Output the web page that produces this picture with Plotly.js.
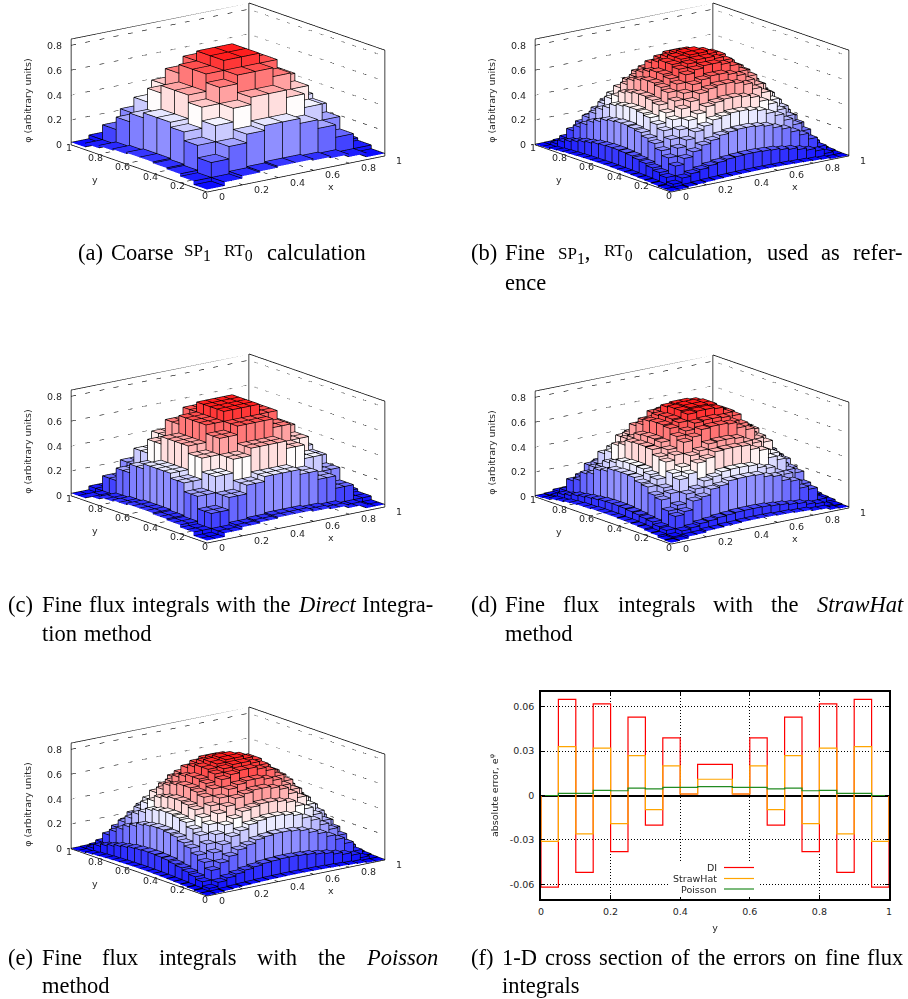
<!DOCTYPE html>
<html><head><meta charset="utf-8">
<script src="https://cdn.plot.ly/plotly-3.0.1.min.js"></script>
<style>html,body{margin:0;padding:0;background:#fff}#g{width:908px;height:999px}</style></head>
<body><div id="g"></div>
<script>
// Quadrants of the symmetric cell-value tables
const coarseSP1 = [
 [.02,.05,.07,.08,.09],
 [.05,.17,.27,.34,.38],
 [.07,.27,.40,.51,.57],
 [.08,.34,.51,.64,.71],
 [.09,.38,.57,.71,.79]];
const fineSP1 = [
 [.005,.006,.013,.018,.022,.025,.028,.030,.031,.032],
 [.006,.029,.064,.085,.103,.120,.131,.143,.148,.152],
 [.013,.064,.141,.188,.227,.265,.289,.316,.328,.336],
 [.018,.085,.188,.251,.302,.354,.385,.421,.437,.448],
 [.022,.103,.227,.302,.365,.427,.464,.508,.527,.540],
 [.025,.120,.265,.354,.427,.499,.544,.594,.616,.632],
 [.028,.131,.289,.385,.464,.544,.592,.647,.671,.688],
 [.030,.143,.316,.421,.508,.594,.647,.707,.733,.752],
 [.031,.148,.328,.437,.527,.616,.671,.733,.761,.780],
 [.032,.152,.336,.448,.540,.632,.688,.752,.780,.800]];
const fineDI = [
 [.02,.02,.05,.05,.07,.07,.08,.08,.09,.09],
 [.02,.02,.05,.05,.07,.07,.08,.08,.09,.09],
 [.05,.05,.17,.17,.27,.27,.34,.34,.38,.38],
 [.05,.05,.17,.17,.27,.27,.34,.34,.38,.38],
 [.07,.07,.27,.27,.40,.40,.51,.51,.57,.57],
 [.07,.07,.27,.27,.40,.40,.51,.51,.57,.57],
 [.08,.08,.34,.34,.51,.51,.64,.64,.71,.71],
 [.08,.08,.34,.34,.51,.51,.64,.64,.71,.71],
 [.09,.09,.38,.38,.57,.57,.71,.71,.79,.79],
 [.09,.09,.38,.38,.57,.57,.71,.71,.79,.79]];
const fineStrawHat = [
 [.010,.015,.030,.035,.045,.050,.055,.055,.060,.060],
 [.015,.025,.057,.068,.087,.095,.105,.112,.119,.121],
 [.032,.057,.155,.179,.249,.268,.315,.328,.354,.358],
 [.034,.068,.179,.210,.286,.312,.362,.381,.408,.414],
 [.046,.087,.249,.286,.383,.414,.487,.509,.549,.555],
 [.048,.095,.268,.312,.414,.450,.527,.552,.593,.601],
 [.054,.106,.315,.362,.487,.527,.616,.644,.690,.699],
 [.055,.112,.328,.381,.509,.552,.644,.674,.722,.731],
 [.060,.119,.354,.408,.549,.593,.690,.722,.775,.785],
 [.061,.121,.358,.414,.555,.601,.699,.731,.785,.795]];
const finePoisson = [
 [.004,.006,.012,.017,.021,.024,.027,.029,.030,.031],
 [.006,.028,.062,.083,.100,.117,.128,.140,.145,.149],
 [.012,.062,.138,.184,.223,.260,.284,.311,.323,.331],
 [.017,.083,.184,.246,.297,.348,.380,.415,.431,.442],
 [.021,.100,.223,.297,.360,.421,.458,.502,.521,.534],
 [.024,.117,.260,.348,.421,.493,.538,.588,.610,.626],
 [.027,.128,.284,.380,.458,.538,.586,.641,.665,.682],
 [.029,.140,.311,.415,.502,.588,.641,.701,.727,.746],
 [.030,.145,.323,.431,.521,.610,.665,.727,.755,.774],
 [.031,.149,.331,.442,.534,.626,.682,.746,.774,.794]];

const zTicks=[0,.2,.4,.6,.8], xyTicks=[0,.2,.4,.6,.8,1];

const crossY=[0,0,.05,.1,.15,.2,.25,.3,.35,.4,.45,.5,.55,.6,.65,.7,.75,.8,.85,.9,.95,1,1];
const errDI=[0,-.062,.065,-.052,.062,-.038,.053,-.02,.039,.001,.021,.021,.001,.039,-.02,.053,-.038,.062,-.052,.065,-.062,-.062,0];
const errStrawHat=[0,-.031,.033,-.026,.032,-.019,.027,-.0095,.02,.001,.011,.011,.001,.02,-.0095,.027,-.019,.032,-.026,.033,-.031,-.031,0];
const errPoisson=[0,0,.0015,.0015,.0035,.0032,.005,.0045,.0055,.0055,.006,.006,.0055,.0055,.0045,.005,.0032,.0035,.0015,.0015,0,0,0];

const SC=s=>`<span style="font-size:17px">${s}</span>`;
const captionWords=[
 [78,253,'(a)'],[111,253,'Coarse'],[184,253,SC('SP')+'<sub>1</sub>'],[224,253,SC('RT')+'<sub>0</sub>'],[267,253,'calculation'],
 [471,253,'(b)'],[505,253,'Fine'],[558,253,SC('SP')+'<sub>1</sub>,'],[604,253,SC('RT')+'<sub>0</sub>'],[648,253,'calculation,'],[767,253,'used'],[821,253,'as'],[853,253,'refer-'],[505,282,'ence'],
 [8,604,'(c)'],[41.6,604,'Fine'],[88.6,604,'flux'],[131.6,604,'integrals'],[216,604,'with'],[263,604,'the'],[297.5,604,'<i>Direct</i>'],[362,604,'Integra-'],[41.6,633,'tion'],[84,633,'method'],
 [471,604,'(d)'],[505,604,'Fine'],[563,604,'flux'],[617.5,604,'integrals'],[713,604,'with'],[771,604,'the'],[817,604,'<i>StrawHat</i>'],[505,633,'method'],
 [8,957,'(e)'],[41.6,957,'Fine'],[102,957,'flux'],[159,957,'integrals'],[257,957,'with'],[318,957,'the'],[366,957,'<i>Poisson</i>'],[41.6,985,'method'],
 [471,957,'(f)'],[502,957,'1-D'],[545,957,'cross'],[599,957,'section'],[671,957,'of'],[698,957,'the'],[733,957,'errors'],[794,957,'on'],[824.5,957,'fine'],[867,957,'flux'],[502,985,'integrals']
];

const W=908,H=999,TXT='#262626',FONT='DejaVu Sans',FS=9.5;
function expand(q){const n=q.length*2,m=[];for(let a=0;a<n;a++){const r=[];const i=a<n/2?a:n-1-a;for(let b=0;b<n;b++){const j=b<n/2?b:n-1-b;r.push(q[i][j]);}m.push(r);}return m;}
// blue - white - red colour scale: white at .42, full red at .84
function pal(z){let r,g,b;if(z<.42){r=g=Math.round(255*Math.max(0,z)/.42);b=255;}else{r=255;g=b=Math.round(255*Math.max(0,1-(z-.42)/.42));}return `rgb(${r},${g},${b})`;}

// edges are nudged a hair toward the camera so that the faces do not hide them
const NX=-.0025,NY=-.0033,NZ=.002;
function surface(q,scene){
 const M=expand(q),n=M.length,d=1/n;
 const X=[],Y=[],Z=[],I=[],J=[],K=[],C=[];
 function quad(a,b,c,e,col){const s=X.length;[a,b,c,e].forEach(p=>{X.push(p[0]);Y.push(p[1]);Z.push(p[2]);});I.push(s,s);J.push(s+1,s+2);K.push(s+2,s+3);C.push(col,col);}
 const lx=[],ly=[],lz=[];
 function seg(a,b){lx.push(a[0]+NX,b[0]+NX,null);ly.push(a[1]+NY,b[1]+NY,null);lz.push(a[2]+NZ,b[2]+NZ,null);}
 for(let i=0;i<n;i++)for(let j=0;j<n;j++){
  const z=M[i][j],x0=i*d,x1=(i+1)*d,y0=j*d,y1=(j+1)*d;
  quad([x0,y0,z],[x1,y0,z],[x1,y1,z],[x0,y1,z],pal(z));
  seg([x0,y0,z],[x1,y0,z]);seg([x1,y0,z],[x1,y1,z]);seg([x1,y1,z],[x0,y1,z]);seg([x0,y1,z],[x0,y0,z]);
  if(i<n-1&&M[i+1][j]!==z){const zr=M[i+1][j];quad([x1,y0,z],[x1,y1,z],[x1,y1,zr],[x1,y0,zr],pal((z+zr)/2));}
  if(j<n-1&&M[i][j+1]!==z){const zu=M[i][j+1];quad([x0,y1,z],[x1,y1,z],[x1,y1,zu],[x0,y1,zu],pal((z+zu)/2));}
 }
 for(let i=0;i<=n;i++)for(let j=0;j<=n;j++){
  const v=[];[[i-1,j-1],[i,j-1],[i-1,j],[i,j]].forEach(c=>{if(c[0]>=0&&c[1]>=0&&c[0]<n&&c[1]<n)v.push(M[c[0]][c[1]]);});
  const a=Math.min(...v),b=Math.max(...v);
  if(b>a)seg([i*d,j*d,a],[i*d,j*d,b]);
 }
 const mesh={type:'mesh3d',scene,x:X,y:Y,z:Z,i:I,j:J,k:K,facecolor:C,flatshading:true,hoverinfo:'skip',
  lighting:{ambient:1,diffuse:0,specular:0,roughness:1,fresnel:0},showscale:false};
 const edges={type:'scatter3d',scene,mode:'lines',x:lx,y:ly,z:lz,line:{color:'#000',width:1.5},hoverinfo:'skip',showlegend:false};
 return [mesh,edges];
}
const zTop=.85;
function frame(scene){
 const solid={type:'scatter3d',scene,mode:'lines',
  x:[0,0,null,0,1,null,0,0,null,1,1,null,0,1,1,null,1,1],
  y:[1,0,null,0,0,null,1,1,null,0,0,null,1,1,0,null,1,1],
  z:[0,0,null,0,0,null,0,zTop,null,0,zTop,null,zTop,zTop,zTop,null,0,zTop],
  line:{color:'#000',width:1.5},hoverinfo:'skip',showlegend:false};
 const dx=[],dy=[],dz=[];
 zTicks.slice(1).forEach(t=>{dx.push(0,1,1,null);dy.push(1,1,0,null);dz.push(t,t,t,null);});
 xyTicks.slice(1,-1).forEach(t=>{dx.push(t,t,null,0,1,null);dy.push(0,1,null,t,t,null);dz.push(0,0,null,0,0,null);});
 const dots={type:'scatter3d',scene,mode:'lines',x:dx,y:dy,z:dz,line:{color:'#000',width:1.2,dash:'dot'},hoverinfo:'skip',showlegend:false};
 return [solid,dots];
}
function axis3(rng){return {range:rng,title:{text:''},showticklabels:false,
 showgrid:false,showbackground:false,showspikes:false,zeroline:false,showline:false,ticks:'',autorange:false};}
function note(x,y,z,text,opt){return Object.assign({x,y,z,text,showarrow:false,font:{family:FONT,size:FS,color:TXT}},opt);}
function sceneNotes(){
 const a=[];
 xyTicks.forEach(t=>a.push(note(t,0,0,String(t),{xanchor:'left',xshift:10,yshift:-4.5})));
 xyTicks.forEach(t=>a.push(note(0,t,0,String(t),{xanchor:'center',xshift:-2,yshift:-3})));
 zTicks.forEach(t=>a.push(note(0,1,t,String(t),{xanchor:'right',xshift:-7})));
 a.push(note(.7,0,0,'x',{yshift:-20}));
 a.push(note(0,.8,0,'y',{xshift:-3,yshift:-25}));
 a.push(note(0,1,.35,'φ (arbitrary units)',{textangle:-90,xshift:-43}));
 return a;
}
const K=3,TH=37.4*Math.PI/180,AL=15.4*Math.PI/180;
function scene(left,top){
 const w=420,h=195;
 return {domain:{x:[left/W,(left+w)/W],y:[1-(top+h)/H,1-top/H]},
  aspectmode:'manual',aspectratio:{x:2.296,y:2.296,z:1.125},
  camera:{projection:{type:'orthographic'},up:{x:0,y:0,z:1},center:{x:0,y:0,z:0},
   eye:{x:-Math.sin(TH)*Math.cos(AL)*K,y:-Math.cos(TH)*Math.cos(AL)*K,z:Math.sin(AL)*K}},
  xaxis:axis3([0,1]),yaxis:axis3([0,1]),zaxis:axis3([0,zTop]),annotations:sceneNotes()};
}
const panels=[['scene',coarseSP1,17.5,0],['scene2',fineSP1,481.5,0],['scene3',fineDI,17.5,351],['scene4',fineStrawHat,481.5,352],['scene5',finePoisson,17.5,704]];
let data=[];const layout={width:W,height:H,margin:{l:0,r:0,t:0,b:0},paper_bgcolor:'#fff',plot_bgcolor:'#fff',showlegend:false,hovermode:false,font:{family:FONT,size:FS,color:TXT}};
panels.forEach(p=>{data=data.concat(frame(p[0]),surface(p[1],p[0]));layout[p[0]]=scene(p[2],p[3]);});

[['DI',errDI,'#ff0000'],['StrawHat',errStrawHat,'#ffa500'],['Poisson',errPoisson,'#228b22']].forEach(s=>{
 data.push({type:'scatter',mode:'lines',name:s[0],x:crossY,y:s[1],line:{shape:'hv',color:s[2],width:1.2},hoverinfo:'skip'});
});
const ax2={ticks:'inside',ticklen:4,tickcolor:'#000',showline:true,linecolor:'#000',linewidth:1.5,mirror:'ticks',showgrid:true,gridcolor:'#000',griddash:'1px,2px',gridwidth:1,tickfont:{family:FONT,size:FS,color:TXT},ticklabelstandoff:3};
layout.xaxis=Object.assign({},ax2,{domain:[541/W,889/W],range:[0,1],tickvals:xyTicks,ticktext:xyTicks.map(String),zeroline:false,title:{text:'y',font:{family:FONT,size:FS,color:TXT},standoff:8},anchor:'y'});
const yt=[-.06,-.03,0,.03,.06];
layout.yaxis=Object.assign({},ax2,{domain:[1-899/H,1-692/H],range:[-.07,.07],tickvals:yt,ticktext:yt.map(String),zeroline:true,zerolinecolor:'#000',zerolinewidth:1.5,title:{text:'absolute error, e<sup>φ</sup>',font:{family:FONT,size:FS,color:TXT},standoff:9},anchor:'x'});
const pxX=x=>x/W,pxY=y=>1-y/H;
layout.shapes=[{type:'rect',xref:'paper',yref:'paper',x0:pxX(670),x1:pxX(758),y0:pxY(897),y1:pxY(862),fillcolor:'#fff',line:{width:0},layer:'above'}];
layout.annotations=[];
[['DI','#ff0000',867.5],['StrawHat','#ffa500',878.5],['Poisson','#228b22',889]].forEach(l=>{
 layout.shapes.push({type:'line',xref:'paper',yref:'paper',x0:pxX(724),x1:pxX(754),y0:pxY(l[2]),y1:pxY(l[2]),line:{color:l[1],width:1.2},layer:'above'});
 layout.annotations.push({xref:'paper',yref:'paper',x:pxX(719),y:pxY(l[2]),xanchor:'right',yanchor:'middle',showarrow:false,text:l[0],font:{family:FONT,size:FS,color:TXT}});
});
captionWords.forEach(c=>layout.annotations.push({xref:'paper',yref:'paper',x:pxX(c[0]-2),y:pxY(c[1]),xanchor:'left',yanchor:'middle',showarrow:false,text:c[2],align:'left',font:{family:'Liberation Serif',size:22.5,color:'#000'}}));
Plotly.newPlot('g',data,layout,{displayModeBar:false});
</script></body></html>
